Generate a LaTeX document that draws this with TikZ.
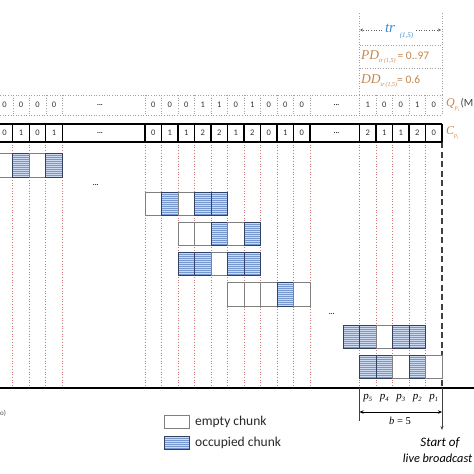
\documentclass[tikz,border=0pt]{standalone}
\usepackage{fontspec}
\setmainfont{Carlito}
\newfontfamily\tms{Liberation Serif}
\usetikzlibrary{arrows.meta}
\definecolor{orng}{RGB}{196,134,76}
\definecolor{trblue}{RGB}{60,140,205}
\definecolor{chunkfill}{RGB}{118,150,206}
\definecolor{chunkstripe}{RGB}{205,218,240}
\definecolor{chunkedge}{RGB}{50,65,95}
\definecolor{reddot}{RGB}{205,120,120}
\definecolor{graydot}{RGB}{160,160,160}
\newcommand\chunkbox[5]{%
  \if#5B
    \fill[chunkfill] (#1,#2) rectangle ++(#3,#4);
    \begin{scope}
      \clip (#1,#2) rectangle ++(#3,#4);
      \foreach \s in {0,2,...,26} \draw[chunkstripe, line width=0.7pt] (#1,#2+\s+1.5) -- ++(#3,0);
    \end{scope}
    \draw[chunkedge, line width=0.8pt] (#1,#2) rectangle ++(#3,#4);
  \else
    \draw[gray, line width=0.9pt, fill=white] (#1,#2) rectangle ++(#3,#4);
  \fi}
\begin{document}
\begin{tikzpicture}[x=1pt,y=-1pt,
  qdig/.style={font=\fontsize{8.5}{10}\selectfont, inner sep=0pt, text=black!80},
  qline/.style={graydot, dotted, line width=0.6pt},
  cline/.style={black, line width=1.3pt},
  redline/.style={reddot, dotted, line width=0.7pt},
  dots/.style={font=\fontsize{7}{8}\selectfont\bfseries, inner sep=0pt},
  lbl/.style={inner sep=0pt, anchor=west},
  dim/.style={black!75, line width=0.6pt}]
\useasboundingbox (0,0) rectangle (474,474);
\clip (0,0) rectangle (474,474);

% red dotted column lines
\foreach \x in {12.8,29.3,45.8,62.3,145,161.5,178,194.5,211,227.5,244,260.5,277,293.5,310,359.5,376,392.5,409,425.5}
  \draw[redline] (\x,142) -- (\x,388);

% timeline
\draw[line width=1.1pt] (0,388) -- (474,388);

% live start dashed line
\coordinate (live) at (442,142);
\coordinate (livebase) at (442,388);
\draw[black!75, line width=1.4pt, dash pattern=on 6pt off 3.5pt] (live) -- (livebase);

% chunk rows
% row 1
\chunkbox{-3.7}{153}{16.5}{24}{W}
\chunkbox{12.8}{153}{16.5}{24}{B}
\chunkbox{29.3}{153}{16.5}{24}{W}
\chunkbox{45.8}{153}{16.5}{24}{B}
% row 2
\chunkbox{145}{192}{16.5}{23}{W}
\chunkbox{161.5}{192}{16.5}{23}{B}
\chunkbox{178}{192}{16.5}{23}{W}
\chunkbox{194.5}{192}{16.5}{23}{B}
\chunkbox{211}{192}{16.5}{23}{B}
% row 3
\chunkbox{178}{222}{16.5}{23}{W}
\chunkbox{194.5}{222}{16.5}{23}{W}
\chunkbox{211}{222}{16.5}{23}{B}
\chunkbox{227.5}{222}{16.5}{23}{W}
\chunkbox{244}{222}{16.5}{23}{B}
% row 4
\chunkbox{178}{252}{16.5}{23}{B}
\chunkbox{194.5}{252}{16.5}{23}{B}
\chunkbox{211}{252}{16.5}{23}{W}
\chunkbox{227.5}{252}{16.5}{23}{B}
\chunkbox{244}{252}{16.5}{23}{B}
% row 5
\chunkbox{227.5}{282}{16.5}{24}{W}
\chunkbox{244}{282}{16.5}{24}{W}
\chunkbox{260.5}{282}{16.5}{24}{W}
\chunkbox{277}{282}{16.5}{24}{B}
\chunkbox{293.5}{282}{16.5}{24}{W}
% row 6
\chunkbox{343}{325}{16.5}{23}{B}
\chunkbox{359.5}{325}{16.5}{23}{B}
\chunkbox{376}{325}{16.5}{23}{W}
\chunkbox{392.5}{325}{16.5}{23}{B}
\chunkbox{409}{325}{16.5}{23}{B}
% row 7
\chunkbox{359.5}{355}{16.5}{23}{B}
\chunkbox{376}{355}{16.5}{23}{B}
\chunkbox{392.5}{355}{16.5}{23}{W}
\chunkbox{409}{355}{16.5}{23}{B}
\chunkbox{425.5}{355}{16.5}{23}{W}

\node[dots] (e1) at (95.7,185) {...};
\node[dots] (e2) at (331.7,314) {...};

% Q row (dotted)
\draw[qline] (-5,95) -- (442,95);
\draw[qline] (-5,115) -- (442,115);
\foreach \x in {-3.7,12.8,29.3,45.8,62.3,145,161.5,178,194.5,211,227.5,244,260.5,277,293.5,310,359.5,376,392.5,409,425.5,442}
  \draw[qline] (\x,95) -- (\x,115);
% C row (solid)
\draw[cline] (-5,124) -- (442,124);
\draw[cline] (-5,142) -- (442,142);
\foreach \x in {-3.7,12.8,29.3,45.8,62.3,145,161.5,178,194.5,211,227.5,244,260.5,277,293.5,310,359.5,376,392.5,409,425.5,442}
  \draw[black, line width=1.1pt] (\x,124) -- (\x,142);

% digits
\foreach \v [count=\i from 0] in {0,0,0,0} \node[qdig] (ql\i) at ({-3.7+16.5*\i+8.25},105) {\v};
\foreach \v [count=\i from 0] in {0,0,0,1,1,0,1,0,0,0} \node[qdig] (qm\i) at ({145+16.5*\i+8.25},105) {\v};
\foreach \v [count=\i from 0] in {1,0,0,1,0} \node[qdig] (qr\i) at ({359.5+16.5*\i+8.25},105) {\v};
\foreach \v [count=\i from 0] in {0,1,0,1} \node[qdig] (cl\i) at ({-3.7+16.5*\i+8.25},133) {\v};
\foreach \v [count=\i from 0] in {0,1,1,2,2,1,2,0,1,0} \node[qdig] (cm\i) at ({145+16.5*\i+8.25},133) {\v};
\foreach \v [count=\i from 0] in {2,1,1,2,0} \node[qdig] (cr\i) at ({359.5+16.5*\i+8.25},133) {\v};
\node[dots] (qe1) at (100,105) {...};
\node[dots] (qe2) at (336.5,105) {...};
\node[dots] (ce1) at (100,133) {...};
\node[dots] (ce2) at (336.5,133) {...};

% row labels
\node[lbl, text=orng] (qlab) at (446,105) {{\fontsize{12}{14}\selectfont\tms\itshape Q}\raisebox{-3pt}{\fontsize{6}{7}\selectfont\tms\itshape p\raisebox{-1.5pt}{\fontsize{4}{5}\selectfont i}}\,{\fontsize{11}{13}\selectfont\color{black!75}(M}};
\node[lbl, text=orng] (clab) at (446,133) {{\fontsize{12}{14}\selectfont\tms\itshape C}\raisebox{-3pt}{\fontsize{6}{7}\selectfont\tms\itshape p\raisebox{-1.5pt}{\fontsize{4}{5}\selectfont i}}};

% top tr box
\draw[qline] (359.5,13) -- (359.5,95);
\draw[qline] (442,13) -- (442,95);
\draw[qline] (359.5,45) -- (442,45);
\draw[qline] (359.5,68) -- (442,68);
\node[inner sep=0pt, text=trblue, font=\fontsize{15}{17}\selectfont\tms\itshape] (tr) at (390,28) {tr};
\node[inner sep=0pt, text=trblue, font=\fontsize{7}{8}\selectfont\tms\itshape] (trsub) at (406.5,36) {(1,5)};
\coordinate (trl) at (360,30);
\coordinate (trr) at (441,30);
\coordinate (trls) at (382,30);
\coordinate (trrs) at (416,30);
\draw[graydot!60!black, dotted, line width=0.6pt, -{Stealth[length=3pt,width=3pt]}] (trls) -- (trl);
\draw[graydot!60!black, dotted, line width=0.6pt, -{Stealth[length=3pt,width=3pt]}] (trrs) -- (trr);
\node[lbl, text=orng] (pd) at (361,57) {{\fontsize{13.5}{15}\selectfont\tms\itshape PD}\raisebox{-3pt}{\fontsize{6}{7}\selectfont\tms\itshape tr\,(1,5)}{\fontsize{11.5}{13}\selectfont\,= 0..97}};
\node[lbl, text=orng] (dd) at (361,81) {{\fontsize{13.5}{15}\selectfont\tms\itshape DD}\raisebox{-3pt}{\fontsize{6}{7}\selectfont\tms\itshape tr\,(1,5)}{\fontsize{11.5}{13}\selectfont= 0.6}};

% p labels
\foreach \n [count=\i from 0] in {5,4,3,2,1}
  \node[inner sep=0pt, font=\fontsize{11}{13}\selectfont\tms\itshape] (p\n) at ({359.5+16.5*\i+8.25},398) {p\raisebox{-2pt}{\fontsize{6.5}{7}\selectfont \n}};

% b = 5 dimension
\coordinate (bl) at (359.5,388);
\coordinate (blow) at (359.5,421);
\draw[dim] (bl) -- (blow);
\coordinate (ba) at (359.5,412);
\coordinate (bb) at (442,412);
\draw[black, line width=0.7pt, {Stealth[length=4pt,width=3.5pt]}-{Stealth[length=4pt,width=3.5pt]}] (ba) -- (bb);
\node[inner sep=0pt, font=\fontsize{10.5}{12}\selectfont\tms] (bval) at (400,421) {\textit{b} = 5};

% start of live broadcast
\coordinate (liveend) at (442,430);
\draw[dim, -{Stealth[length=4pt,width=3pt]}] (livebase) -- (liveend);
\node[inner sep=0pt, font=\fontsize{13}{15}\selectfont\itshape] (start1) at (440,443) {Start of};
\node[inner sep=0pt, font=\fontsize{12.3}{14}\selectfont\itshape, anchor=east] (start2) at (472.5,458) {live broadcast};

% legend
\chunkbox{164.3}{415}{24.7}{13}{W}
\chunkbox{164.3}{436}{24.7}{13}{B}
\node[lbl, font=\fontsize{13.5}{15}\selectfont, text=black!85] (leg1) at (195,421.5) {empty chunk};
\node[lbl, font=\fontsize{13.5}{15}\selectfont, text=black!85] (leg2) at (195,442.5) {occupied chunk};

\node[lbl, font=\fontsize{7}{8}\selectfont, text=black!70] (cut) at (0,413) {o)};
\end{tikzpicture}
\end{document}
